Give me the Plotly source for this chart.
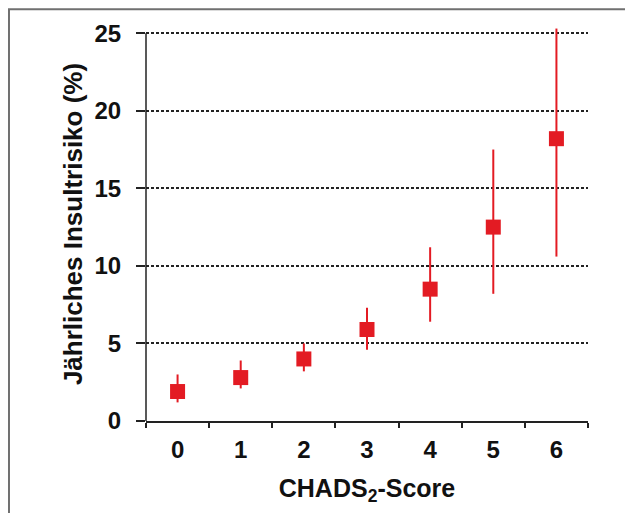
import plotly.graph_objects as go

scores = ["0", "1", "2", "3", "4", "5", "6"]
risk = [1.9, 2.8, 4.0, 5.9, 8.5, 12.5, 18.2]
ci_low = [1.2, 2.1, 3.2, 4.6, 6.4, 8.2, 10.6]
ci_high = [3.0, 3.9, 5.0, 7.3, 11.2, 17.5, 25.3]
y_ticks = [0, 5, 10, 15, 20, 25]

red = "#e31b23"
font_fam = "Liberation Sans, Arial, Helvetica, sans-serif"

err_plus = [h - v for h, v in zip(ci_high, risk)]
err_minus = [v - l for v, l in zip(risk, ci_low)]

fig = go.Figure()
fig.add_trace(go.Scatter(
    x=scores, y=risk, mode="markers",
    marker=dict(symbol="square", size=15, color=red, line=dict(width=0)),
    error_y=dict(type="data", symmetric=False, array=err_plus, arrayminus=err_minus,
                 color=red, thickness=2, width=0),
    showlegend=False, hoverinfo="skip",
))

fig.update_layout(
    width=633, height=513,
    margin=dict(l=138, r=53, t=19, b=100),
    paper_bgcolor="white", plot_bgcolor="white",
    font=dict(family=font_fam, color="#111", weight="bold"),
    xaxis=dict(
        type="category", range=[-0.5, 6.5],
        tickson="boundaries", ticks="outside", ticklen=5, tickwidth=1.5, tickcolor="#222",
        showline=True, linecolor="#222", linewidth=1.5,
        showgrid=False, zeroline=False,
        tickfont=dict(size=24, family=font_fam, weight="bold"),
        ticklabelstandoff=6,
        title=dict(text="CHADS<sub>2</sub>-Score", font=dict(size=25, family=font_fam, weight="bold"),
                   standoff=18),
    ),
    yaxis=dict(
        range=[0, 25.4], tickvals=y_ticks, ticktext=[str(v) for v in y_ticks],
        ticks="outside", ticklen=9, tickwidth=1.5, tickcolor="#222",
        showline=False, zeroline=False,
        showgrid=True, gridcolor="#222", gridwidth=1.5, griddash="3px,2px",
        tickfont=dict(size=24, family=font_fam, weight="bold"),
        ticklabelstandoff=10,
        title=dict(text="Jährliches Insultrisiko (%)", font=dict(size=26, family=font_fam, weight="bold"),
                   standoff=4),
    ),
    shapes=[
        dict(type="line", xref="paper", yref="y", x0=0, x1=0, y0=0, y1=25,
             line=dict(color="#222", width=1.5), layer="above"),
        dict(type="rect", xref="paper", yref="paper", x0=-0.31, x1=1.3, y0=-0.4, y1=1.045,
             line=dict(color="#707070", width=2), fillcolor="rgba(0,0,0,0)", layer="above"),
    ],
)

fig.write_html("out.html")
